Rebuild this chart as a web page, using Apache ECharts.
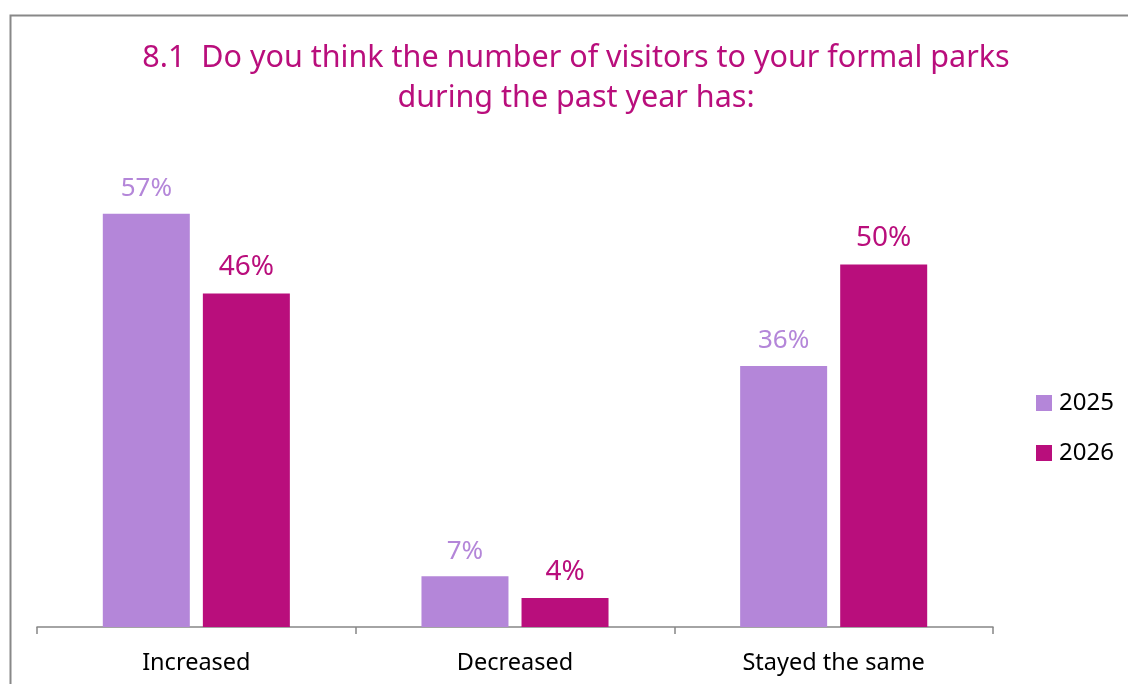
<!DOCTYPE html>
<html>
<head>
<meta charset="utf-8">
<script src="https://cdn.jsdelivr.net/npm/echarts@6/dist/echarts.min.js"></script>
<style>
  html, body { margin: 0; padding: 0; background: #fff; }
  #chart { width: 1128px; height: 684px; }
</style>
</head>
<body>
<div id="chart"></div>
<script>
// Survey responses, percent of respondents
const categories = ['Increased', 'Decreased', 'Stayed the same'];
const seriesNames = ['2025', '2026'];
const values2025 = [57, 7, 36];
const values2026 = [46, 4, 50];

const titleLines = [
  '8.1  Do you think the number of visitors to your formal parks',
  'during the past year has:'
];

const FONT = '"Noto Sans", sans-serif';
const LIGHT = '#B486D9';
const MAGENTA = '#B90E7C';

const chart = echarts.init(document.getElementById('chart'));

chart.setOption({
  animation: false,
  textStyle: { fontFamily: FONT },
  graphic: [
    {
      // outer frame, open at the right and bottom edges
      type: 'rect',
      left: 8,
      top: 13,
      shape: { width: 1140, height: 700 },
      style: { fill: 'none', stroke: '#888888', lineWidth: 2 },
      silent: true
    },
    {
      // two-line heading, centred over the chart area
      type: 'text',
      x: 576,
      y: 38,
      silent: true,
      style: {
        text: titleLines.join('\n'),
        fill: MAGENTA,
        font: 'normal 30.5px "Noto Sans", sans-serif',
        lineHeight: 40,
        textAlign: 'center',
        textVerticalAlign: 'top'
      }
    }
  ],
  legend: {
    orient: 'vertical',
    left: 1031,
    top: 386,
    itemWidth: 16,
    itemHeight: 16,
    itemGap: 26,
    icon: 'rect',
    data: seriesNames,
    textStyle: { color: '#000', fontSize: 24, fontFamily: FONT, padding: [0, 0, 0, 2] }
  },
  grid: { left: 37, right: 135, top: 47, bottom: 57 },
  xAxis: {
    type: 'category',
    data: categories,
    axisLine: { lineStyle: { color: '#868686', width: 1.5 } },
    axisTick: { show: true, length: 7, lineStyle: { color: '#868686', width: 1.5 } },
    axisLabel: { color: '#000', fontSize: 23.5, margin: 24, fontFamily: FONT }
  },
  yAxis: {
    type: 'value',
    min: 0,
    max: 80,
    show: false,
    splitLine: { show: false }
  },
  series: [
    {
      name: seriesNames[0],
      type: 'bar',
      data: values2025,
      barWidth: 87,
      barGap: '15%',
      itemStyle: { color: LIGHT },
      label: {
        show: true,
        position: 'top',
        distance: 12,
        formatter: '{c}%',
        color: LIGHT,
        fontSize: 26,
        fontFamily: FONT
      }
    },
    {
      name: seriesNames[1],
      type: 'bar',
      data: values2026,
      barWidth: 87,
      itemStyle: { color: MAGENTA },
      label: {
        show: true,
        position: 'top',
        distance: 12,
        formatter: '{c}%',
        color: MAGENTA,
        fontSize: 28,
        fontFamily: FONT
      }
    }
  ]
});
</script>
</body>
</html>
